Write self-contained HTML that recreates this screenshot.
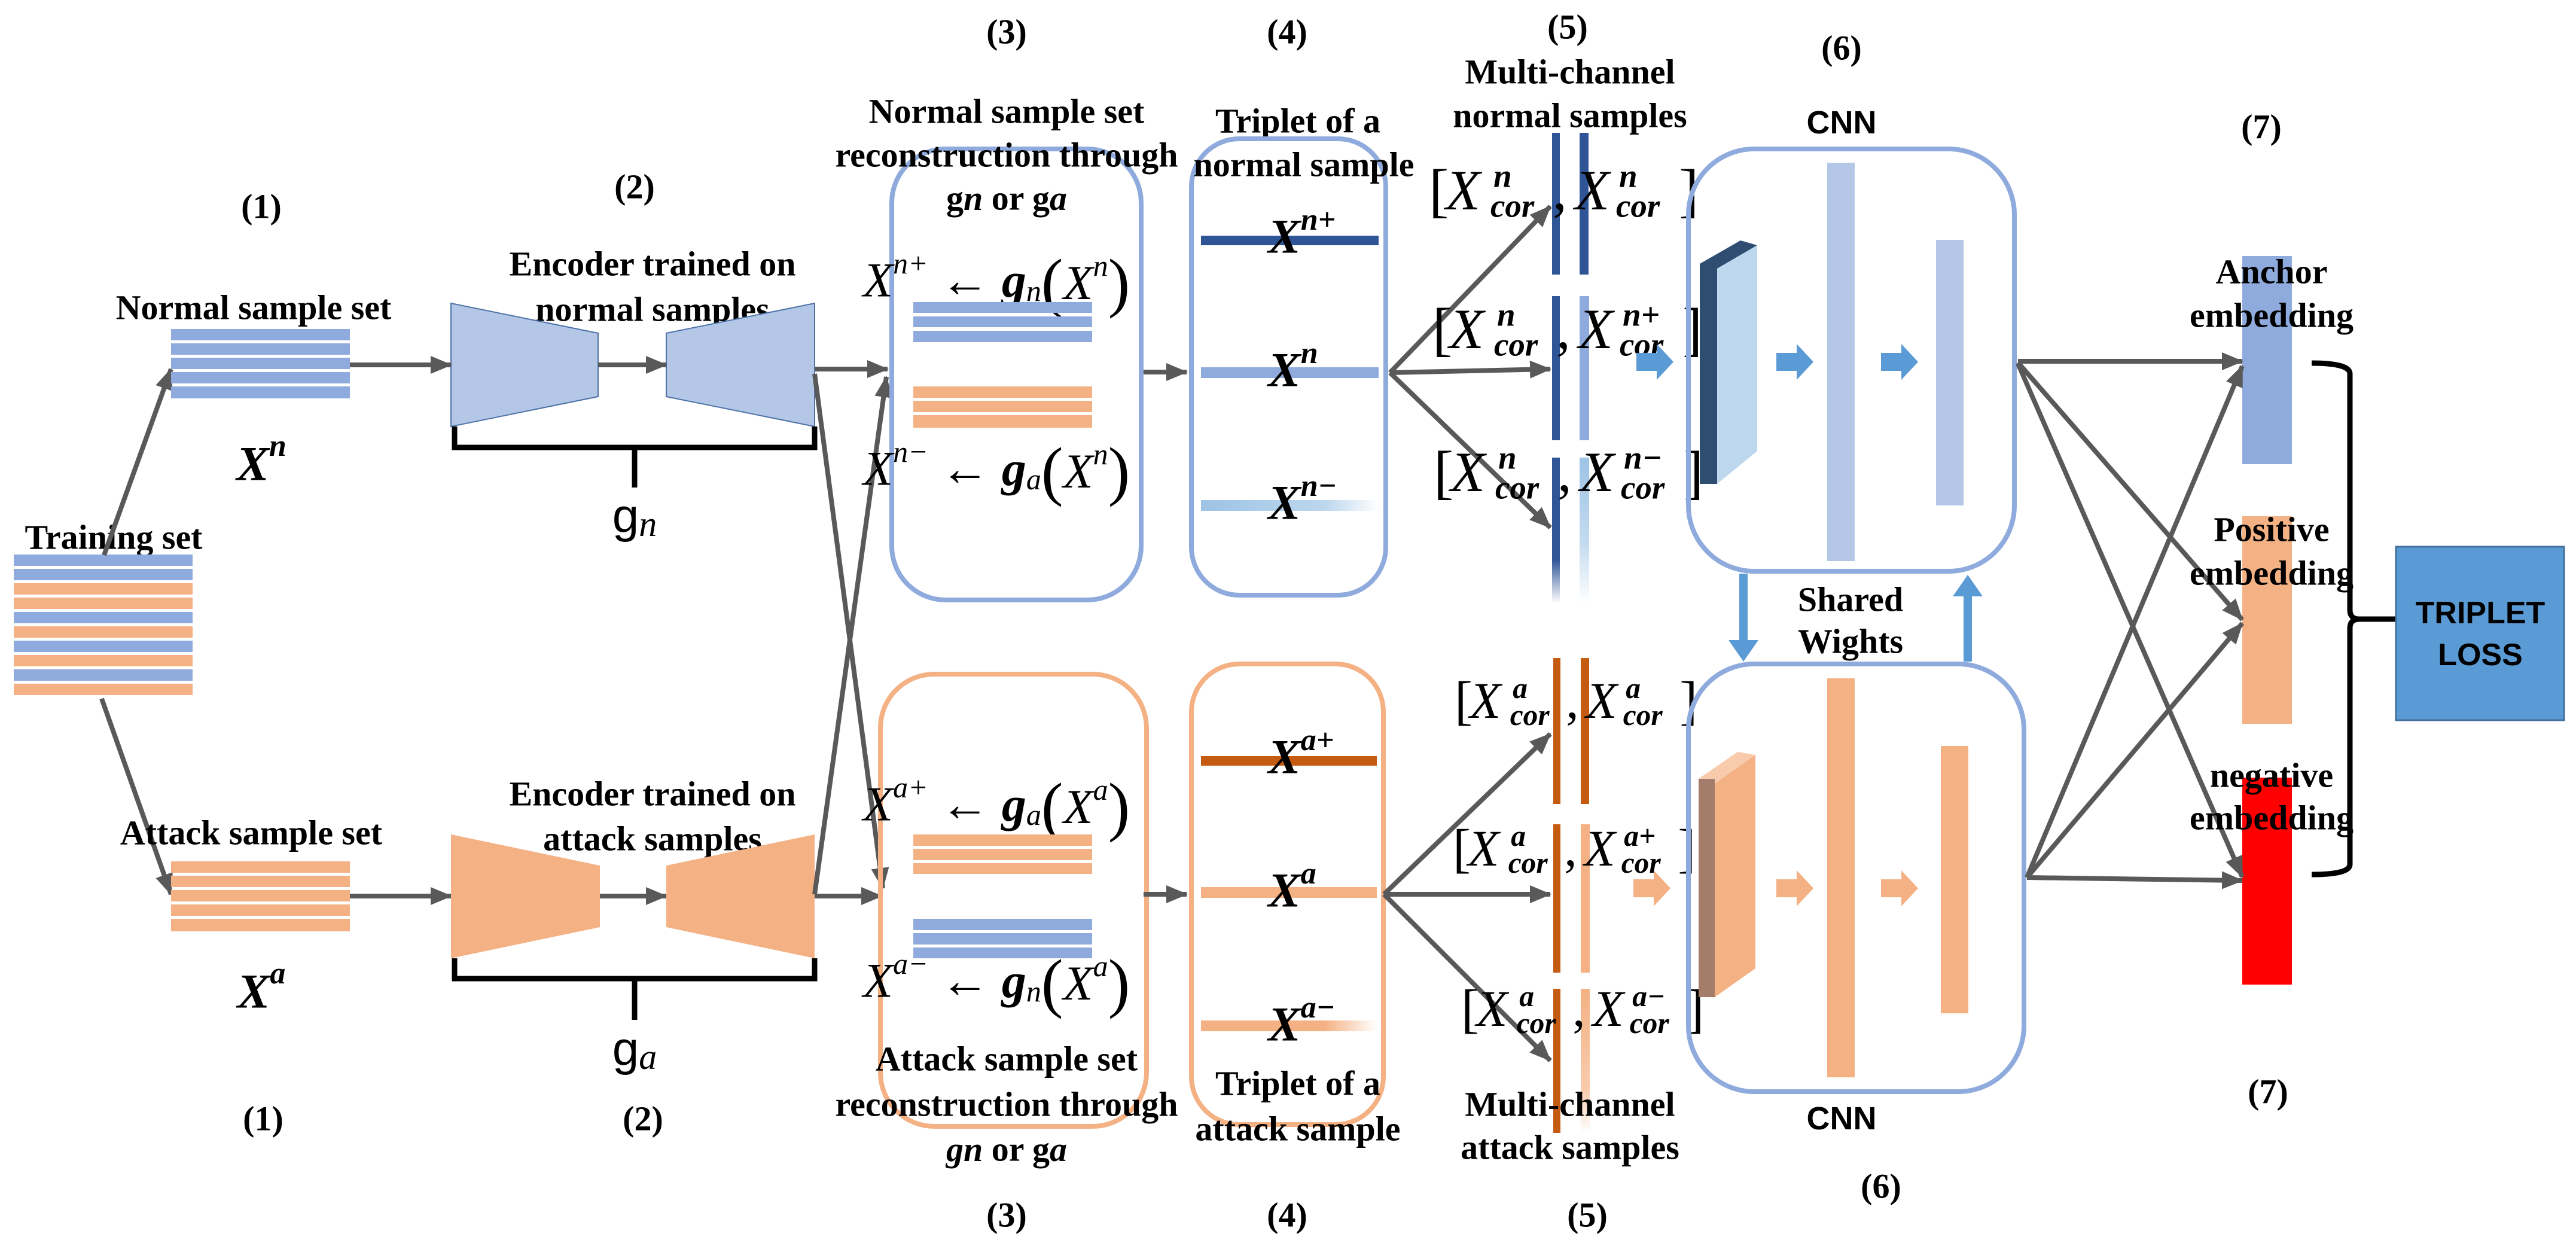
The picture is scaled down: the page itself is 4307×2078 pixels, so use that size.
<!DOCTYPE html>
<html><head><meta charset="utf-8"><style>
html,body{margin:0;padding:0;background:#fff;}
svg{display:block;}
.t{font-family:"Liberation Serif",serif;font-weight:bold;font-size:58px;fill:#000;}
.m{font-family:"Liberation Serif",serif;font-style:italic;fill:#000;}
.s{font-family:"Liberation Sans",sans-serif;font-weight:bold;fill:#000;}
</style></head><body>
<svg width="4307" height="2078" viewBox="0 0 4307 2078" xmlns="http://www.w3.org/2000/svg">
<defs>
<marker id="ah" markerUnits="userSpaceOnUse" markerWidth="40" markerHeight="34" refX="34" refY="15" orient="auto">
<path d="M0,0 L36,15 L0,30 z" fill="#595959"/></marker>
<linearGradient id="gb" x1="0" x2="1"><stop offset="0" stop-color="#9dc3e6"/><stop offset="0.7" stop-color="#bdd7ee"/><stop offset="1" stop-color="#fff"/></linearGradient>
<linearGradient id="go" x1="0" x2="1"><stop offset="0" stop-color="#f4b183"/><stop offset="0.7" stop-color="#f4b183"/><stop offset="1" stop-color="#fff"/></linearGradient>
<linearGradient id="gbv" x1="0" y1="0" x2="0" y2="1"><stop offset="0" stop-color="#9dc3e6"/><stop offset="0.6" stop-color="#c5dcf0"/><stop offset="1" stop-color="#fff"/></linearGradient>
<linearGradient id="gbv2" x1="0" y1="0" x2="0" y2="1"><stop offset="0" stop-color="#2f5597"/><stop offset="0.7" stop-color="#2f5597"/><stop offset="1" stop-color="#fff"/></linearGradient>
<linearGradient id="gov" x1="0" y1="0" x2="0" y2="1"><stop offset="0" stop-color="#f4b183"/><stop offset="0.7" stop-color="#f8cbad"/><stop offset="1" stop-color="#fff"/></linearGradient>
</defs>

<!-- Training set -->
<text class="t" x="190" y="898" text-anchor="middle" dominant-baseline="central">Training set</text>
<g>
<rect x="23" y="927" width="299" height="19" fill="#8faadc"/>
<rect x="23" y="951" width="299" height="19" fill="#8faadc"/>
<rect x="23" y="975" width="299" height="19" fill="#f4b183"/>
<rect x="23" y="999" width="299" height="19" fill="#f4b183"/>
<rect x="23" y="1023" width="299" height="19" fill="#8faadc"/>
<rect x="23" y="1047" width="299" height="19" fill="#f4b183"/>
<rect x="23" y="1071" width="299" height="19" fill="#8faadc"/>
<rect x="23" y="1095" width="299" height="19" fill="#f4b183"/>
<rect x="23" y="1119" width="299" height="19" fill="#8faadc"/>
<rect x="23" y="1143" width="299" height="19" fill="#f4b183"/>
</g>
<g stroke="#595959" stroke-width="8" fill="none" marker-end="url(#ah)">
<line x1="174" y1="928" x2="286" y2="617"/>
<line x1="170" y1="1168" x2="286" y2="1495"/>
</g>

<!-- (1) normal -->
<text class="t" x="437" y="345" text-anchor="middle" dominant-baseline="central">(1)</text>
<text class="t" x="424" y="514" text-anchor="middle" dominant-baseline="central">Normal sample set</text>
<g fill="#8faadc">
<rect x="286" y="550" width="299" height="19"/><rect x="286" y="574" width="299" height="19"/><rect x="286" y="598" width="299" height="19"/><rect x="286" y="622" width="299" height="19"/><rect x="286" y="646" width="299" height="20"/>
</g>
<text class="m" x="437" y="775" text-anchor="middle" dominant-baseline="central" font-weight="bold" font-size="82">X<tspan font-size="52" dy="-30">n</tspan></text>

<!-- (1) attack -->
<text class="t" x="420" y="1392" text-anchor="middle" dominant-baseline="central">Attack sample set</text>
<g fill="#f4b183">
<rect x="286" y="1440" width="299" height="19"/><rect x="286" y="1464" width="299" height="19"/><rect x="286" y="1488" width="299" height="19"/><rect x="286" y="1512" width="299" height="19"/><rect x="286" y="1536" width="299" height="21"/>
</g>
<text class="m" x="437" y="1657" text-anchor="middle" dominant-baseline="central" font-weight="bold" font-size="82">X<tspan font-size="52" dy="-30">a</tspan></text>
<text class="t" x="440" y="1870" text-anchor="middle" dominant-baseline="central">(1)</text>

<!-- (2) encoders -->
<text class="t" x="1061" y="312" text-anchor="middle" dominant-baseline="central">(2)</text>
<text class="t" x="1091" y="441" text-anchor="middle" dominant-baseline="central">Encoder trained on</text>
<text class="t" x="1091" y="517" text-anchor="middle" dominant-baseline="central">normal samples</text>
<polygon points="754,507 1000,557 1000,663 754,713" fill="#b4c7e7" stroke="#4f73a8" stroke-width="2"/>
<polygon points="1114,557 1362,507 1362,713 1114,663" fill="#b4c7e7" stroke="#4f73a8" stroke-width="2"/>
<g stroke="#595959" stroke-width="8" fill="none" marker-end="url(#ah)">
<line x1="585" y1="610" x2="754" y2="610"/>
<line x1="1000" y1="610" x2="1114" y2="610"/>
<line x1="585" y1="1498" x2="754" y2="1498"/>
<line x1="1003" y1="1498" x2="1114" y2="1498"/>
</g>
<path d="M760,713 V748 H1362 V713 M1061,748 V815" stroke="#000" stroke-width="9" fill="none"/>
<text x="1061" y="862" text-anchor="middle" dominant-baseline="central" font-family="Liberation Sans,sans-serif" font-size="80">g<tspan class="m" font-size="60" dy="14">n</tspan></text>

<text class="t" x="1091" y="1327" text-anchor="middle" dominant-baseline="central">Encoder trained on</text>
<text class="t" x="1091" y="1402" text-anchor="middle" dominant-baseline="central">attack samples</text>
<polygon points="754,1395 1003,1447 1003,1550 754,1602" fill="#f4b183"/>
<polygon points="1114,1447 1362,1395 1362,1602 1114,1550" fill="#f4b183"/>
<path d="M760,1602 V1636 H1362 V1602 M1061,1636 V1705" stroke="#000" stroke-width="9" fill="none"/>
<text x="1061" y="1753" text-anchor="middle" dominant-baseline="central" font-family="Liberation Sans,sans-serif" font-size="80">g<tspan class="m" font-size="60" dy="14">a</tspan></text>
<text class="t" x="1075" y="1870" text-anchor="middle" dominant-baseline="central">(2)</text>

<!-- encoder -> box3 arrows -->
<g stroke="#595959" stroke-width="8" fill="none" marker-end="url(#ah)">
<line x1="1362" y1="617" x2="1484" y2="617"/>
<line x1="1362" y1="1498" x2="1474" y2="1498"/>
<line x1="1362" y1="625" x2="1476" y2="1485"/>
<line x1="1362" y1="1495" x2="1482" y2="630"/>
</g>

<!-- (3) -->
<text class="t" x="1683" y="53" text-anchor="middle" dominant-baseline="central">(3)</text>
<text class="t" x="1683" y="186" text-anchor="middle" dominant-baseline="central">Normal sample set</text>
<rect x="1491" y="249" width="417" height="754" rx="90" fill="none" stroke="#8faadc" stroke-width="8"/>
<text class="t" x="1683" y="259" text-anchor="middle" dominant-baseline="central">reconstruction through</text>
<text class="t" x="1683" y="331" text-anchor="middle" dominant-baseline="central">g<tspan font-style="italic">n</tspan> or g<tspan font-style="italic">a</tspan></text>
<text class="m" x="1443" y="468" dominant-baseline="central" font-size="82">X<tspan font-size="50" dy="-28">n+</tspan><tspan dy="28" font-style="normal"> ← </tspan><tspan font-weight="bold">g</tspan><tspan font-size="50" dy="18">n</tspan><tspan font-size="110" dy="-14" font-style="normal">(</tspan><tspan dy="0">X</tspan><tspan font-size="50" dy="-28">n</tspan><tspan font-size="110" dy="28" font-style="normal">)</tspan></text>
<g fill="#8faadc"><rect x="1527" y="505" width="299" height="18"/><rect x="1527" y="529" width="299" height="18"/><rect x="1527" y="553" width="299" height="19"/></g>
<g fill="#f4b183"><rect x="1527" y="646" width="299" height="19"/><rect x="1527" y="670" width="299" height="19"/><rect x="1527" y="694" width="299" height="21"/></g>
<text class="m" x="1443" y="783" dominant-baseline="central" font-size="82">X<tspan font-size="50" dy="-28">n−</tspan><tspan dy="28" font-style="normal"> ← </tspan><tspan font-weight="bold">g</tspan><tspan font-size="50" dy="18">a</tspan><tspan font-size="110" dy="-14" font-style="normal">(</tspan><tspan dy="0">X</tspan><tspan font-size="50" dy="-28">n</tspan><tspan font-size="110" dy="28" font-style="normal">)</tspan></text>

<rect x="1472" y="1127" width="445" height="756" rx="90" fill="none" stroke="#f4b183" stroke-width="8"/>
<text class="m" x="1443" y="1344" dominant-baseline="central" font-size="82">X<tspan font-size="50" dy="-28">a+</tspan><tspan dy="28" font-style="normal"> ← </tspan><tspan font-weight="bold">g</tspan><tspan font-size="50" dy="18">a</tspan><tspan font-size="110" dy="-14" font-style="normal">(</tspan><tspan dy="0">X</tspan><tspan font-size="50" dy="-28">a</tspan><tspan font-size="110" dy="28" font-style="normal">)</tspan></text>
<g fill="#f4b183"><rect x="1527" y="1395" width="299" height="19"/><rect x="1527" y="1419" width="299" height="19"/><rect x="1527" y="1443" width="299" height="18"/></g>
<g fill="#8faadc"><rect x="1527" y="1536" width="299" height="19"/><rect x="1527" y="1560" width="299" height="19"/><rect x="1527" y="1584" width="299" height="18"/></g>
<text class="m" x="1443" y="1639" dominant-baseline="central" font-size="82">X<tspan font-size="50" dy="-28">a−</tspan><tspan dy="28" font-style="normal"> ← </tspan><tspan font-weight="bold">g</tspan><tspan font-size="50" dy="18">n</tspan><tspan font-size="110" dy="-14" font-style="normal">(</tspan><tspan dy="0">X</tspan><tspan font-size="50" dy="-28">a</tspan><tspan font-size="110" dy="28" font-style="normal">)</tspan></text>
<text class="t" x="1683" y="1770" text-anchor="middle" dominant-baseline="central">Attack sample set</text>
<text class="t" x="1683" y="1846" text-anchor="middle" dominant-baseline="central">reconstruction through</text>
<text class="t" x="1683" y="1921" text-anchor="middle" dominant-baseline="central"><tspan font-style="italic">gn</tspan> or g<tspan font-style="italic">a</tspan></text>
<text class="t" x="1683" y="2031" text-anchor="middle" dominant-baseline="central">(3)</text>

<!-- box3 -> box4 -->
<g stroke="#595959" stroke-width="8" fill="none" marker-end="url(#ah)">
<line x1="1912" y1="622" x2="1984" y2="622"/>
<line x1="1912" y1="1495" x2="1984" y2="1495"/>
</g>

<!-- (4) -->
<text class="t" x="2152" y="53" text-anchor="middle" dominant-baseline="central">(4)</text>
<text class="t" x="2170" y="202" text-anchor="middle" dominant-baseline="central">Triplet of  a</text>
<rect x="1992" y="232" width="325" height="763" rx="80" fill="none" stroke="#8faadc" stroke-width="8"/>
<text class="t" x="2180" y="275" text-anchor="middle" dominant-baseline="central">normal sample</text>
<rect x="2008" y="394" width="297" height="16" fill="#2f5597"/>
<rect x="2008" y="614" width="297" height="18" fill="#8faadc"/>
<rect x="2008" y="836" width="297" height="18" fill="url(#gb)"/>
<g class="m" font-weight="bold" font-size="82" text-anchor="start">
<text x="2120" y="395" dominant-baseline="central">X<tspan font-size="52" dy="-28">n+</tspan></text>
<text x="2120" y="618" dominant-baseline="central">X<tspan font-size="52" dy="-28">n</tspan></text>
<text x="2120" y="840" dominant-baseline="central">X<tspan font-size="52" dy="-28">n−</tspan></text>
</g>
<rect x="1992" y="1110" width="321" height="770" rx="80" fill="none" stroke="#f4b183" stroke-width="8"/>
<rect x="2008" y="1264" width="294" height="16" fill="#c55a11"/>
<rect x="2008" y="1483" width="294" height="18" fill="#f4b183"/>
<rect x="2008" y="1706" width="294" height="18" fill="url(#go)"/>
<g class="m" font-weight="bold" font-size="82">
<text x="2120" y="1265" dominant-baseline="central">X<tspan font-size="52" dy="-28">a+</tspan></text>
<text x="2120" y="1488" dominant-baseline="central">X<tspan font-size="52" dy="-28">a</tspan></text>
<text x="2120" y="1712" dominant-baseline="central">X<tspan font-size="52" dy="-28">a−</tspan></text>
</g>
<text class="t" x="2170" y="1811" text-anchor="middle" dominant-baseline="central">Triplet of  a</text>
<text class="t" x="2170" y="1887" text-anchor="middle" dominant-baseline="central">attack sample</text>
<text class="t" x="2152" y="2031" text-anchor="middle" dominant-baseline="central">(4)</text>

<!-- (5) channels -->
<text class="t" x="2621" y="45" text-anchor="middle" dominant-baseline="central">(5)</text>
<text class="t" x="2625" y="120" text-anchor="middle" dominant-baseline="central">Multi-channel</text>
<text class="t" x="2625" y="193" text-anchor="middle" dominant-baseline="central">normal samples</text>
<rect x="2595" y="222" width="13" height="237" fill="#2f5597"/>
<rect x="2641" y="222" width="15" height="237" fill="#2f5597"/>
<rect x="2595" y="495" width="13" height="241" fill="#2f5597"/>
<rect x="2641" y="495" width="16" height="241" fill="#8faadc"/>
<rect x="2595" y="765" width="13" height="243" fill="url(#gbv2)"/>
<rect x="2641" y="765" width="16" height="243" fill="url(#gbv)"/>

<rect x="2597" y="1100" width="12" height="244" fill="#c55a11"/>
<rect x="2643" y="1100" width="14" height="244" fill="#c55a11"/>
<rect x="2597" y="1378" width="12" height="248" fill="#c55a11"/>
<rect x="2643" y="1378" width="15" height="248" fill="#f4b183"/>
<rect x="2597" y="1653" width="12" height="241" fill="#c55a11"/>
<rect x="2643" y="1653" width="15" height="241" fill="url(#gov)"/>

<g stroke="#595959" stroke-width="8" fill="none" marker-end="url(#ah)">
<line x1="2324" y1="623" x2="2592" y2="345"/>
<line x1="2324" y1="623" x2="2592" y2="617"/>
<line x1="2324" y1="623" x2="2592" y2="882"/>
<line x1="2314" y1="1495" x2="2592" y2="1227"/>
<line x1="2314" y1="1495" x2="2592" y2="1495"/>
<line x1="2314" y1="1495" x2="2592" y2="1773"/>
</g>

<!-- channel labels -->
<g font-family="Liberation Serif,serif" fill="#000">
<g transform="translate(2389,318)">
<text x="0" y="0" font-size="100" dominant-baseline="central">[</text>
<text x="28" y="0" font-size="95" font-style="italic" dominant-baseline="central">X</text>
<text x="108" y="-24" font-size="55" font-style="italic" font-weight="bold" dominant-baseline="central">n</text>
<text x="103" y="26" font-size="55" font-style="italic" font-weight="bold" dominant-baseline="central">cor</text>
<text x="207" y="0" font-size="95" dominant-baseline="central">,</text>
<text x="244" y="0" font-size="95" font-style="italic" dominant-baseline="central">X</text>
<text x="318" y="-24" font-size="55" font-style="italic" font-weight="bold" dominant-baseline="central">n</text>
<text x="313" y="26" font-size="55" font-style="italic" font-weight="bold" dominant-baseline="central">cor</text>
<text x="418" y="0" font-size="100" dominant-baseline="central">]</text>
</g>
<g transform="translate(2395,550)">
<text x="0" y="0" font-size="100" dominant-baseline="central">[</text>
<text x="28" y="0" font-size="95" font-style="italic" dominant-baseline="central">X</text>
<text x="108" y="-24" font-size="55" font-style="italic" font-weight="bold" dominant-baseline="central">n</text>
<text x="103" y="26" font-size="55" font-style="italic" font-weight="bold" dominant-baseline="central">cor</text>
<text x="207" y="0" font-size="95" dominant-baseline="central">,</text>
<text x="244" y="0" font-size="95" font-style="italic" dominant-baseline="central">X</text>
<text x="318" y="-24" font-size="55" font-style="italic" font-weight="bold" dominant-baseline="central">n+</text>
<text x="313" y="26" font-size="55" font-style="italic" font-weight="bold" dominant-baseline="central">cor</text>
<text x="418" y="0" font-size="100" dominant-baseline="central">]</text>
</g>
<g transform="translate(2397,789)">
<text x="0" y="0" font-size="100" dominant-baseline="central">[</text>
<text x="28" y="0" font-size="95" font-style="italic" dominant-baseline="central">X</text>
<text x="108" y="-24" font-size="55" font-style="italic" font-weight="bold" dominant-baseline="central">n</text>
<text x="103" y="26" font-size="55" font-style="italic" font-weight="bold" dominant-baseline="central">cor</text>
<text x="207" y="0" font-size="95" dominant-baseline="central">,</text>
<text x="244" y="0" font-size="95" font-style="italic" dominant-baseline="central">X</text>
<text x="318" y="-24" font-size="55" font-style="italic" font-weight="bold" dominant-baseline="central">n−</text>
<text x="313" y="26" font-size="55" font-style="italic" font-weight="bold" dominant-baseline="central">cor</text>
<text x="418" y="0" font-size="100" dominant-baseline="central">]</text>
</g>
<g transform="translate(2432,1172) scale(0.9)">
<text x="0" y="0" font-size="100" dominant-baseline="central">[</text>
<text x="28" y="0" font-size="95" font-style="italic" dominant-baseline="central">X</text>
<text x="108" y="-24" font-size="55" font-style="italic" font-weight="bold" dominant-baseline="central">a</text>
<text x="103" y="26" font-size="55" font-style="italic" font-weight="bold" dominant-baseline="central">cor</text>
<text x="207" y="0" font-size="95" dominant-baseline="central">,</text>
<text x="244" y="0" font-size="95" font-style="italic" dominant-baseline="central">X</text>
<text x="318" y="-24" font-size="55" font-style="italic" font-weight="bold" dominant-baseline="central">a</text>
<text x="313" y="26" font-size="55" font-style="italic" font-weight="bold" dominant-baseline="central">cor</text>
<text x="418" y="0" font-size="100" dominant-baseline="central">]</text>
</g>
<g transform="translate(2429,1419) scale(0.9)">
<text x="0" y="0" font-size="100" dominant-baseline="central">[</text>
<text x="28" y="0" font-size="95" font-style="italic" dominant-baseline="central">X</text>
<text x="108" y="-24" font-size="55" font-style="italic" font-weight="bold" dominant-baseline="central">a</text>
<text x="103" y="26" font-size="55" font-style="italic" font-weight="bold" dominant-baseline="central">cor</text>
<text x="207" y="0" font-size="95" dominant-baseline="central">,</text>
<text x="244" y="0" font-size="95" font-style="italic" dominant-baseline="central">X</text>
<text x="318" y="-24" font-size="55" font-style="italic" font-weight="bold" dominant-baseline="central">a+</text>
<text x="313" y="26" font-size="55" font-style="italic" font-weight="bold" dominant-baseline="central">cor</text>
<text x="418" y="0" font-size="100" dominant-baseline="central">]</text>
</g>
<g transform="translate(2443,1687) scale(0.9)">
<text x="0" y="0" font-size="100" dominant-baseline="central">[</text>
<text x="28" y="0" font-size="95" font-style="italic" dominant-baseline="central">X</text>
<text x="108" y="-24" font-size="55" font-style="italic" font-weight="bold" dominant-baseline="central">a</text>
<text x="103" y="26" font-size="55" font-style="italic" font-weight="bold" dominant-baseline="central">cor</text>
<text x="207" y="0" font-size="95" dominant-baseline="central">,</text>
<text x="244" y="0" font-size="95" font-style="italic" dominant-baseline="central">X</text>
<text x="318" y="-24" font-size="55" font-style="italic" font-weight="bold" dominant-baseline="central">a−</text>
<text x="313" y="26" font-size="55" font-style="italic" font-weight="bold" dominant-baseline="central">cor</text>
<text x="418" y="0" font-size="100" dominant-baseline="central">]</text>
</g>
</g>
<text class="t" x="2625" y="1846" text-anchor="middle" dominant-baseline="central">Multi-channel</text>
<text class="t" x="2625" y="1918" text-anchor="middle" dominant-baseline="central">attack samples</text>
<text class="t" x="2654" y="2031" text-anchor="middle" dominant-baseline="central">(5)</text>

<!-- (6) CNN -->
<text class="t" x="3079" y="80" text-anchor="middle" dominant-baseline="central">(6)</text>
<text class="s" x="3079" y="205" text-anchor="middle" dominant-baseline="central" font-size="54">CNN</text>
<rect x="2823" y="249" width="545" height="706" rx="110" fill="none" stroke="#8faadc" stroke-width="8"/>
<polygon points="2736,590 2770,590 2770,575 2798,605 2770,635 2770,620 2736,620" fill="#5b9bd5"/>
<polygon points="2842,441 2910,402 2938,410 2871,449" fill="#2e4d70"/>
<rect x="2842" y="441" width="29" height="368" fill="#2e4d70"/>
<polygon points="2871,449 2938,410 2938,754 2871,809" fill="#bdd7ee"/>
<polygon points="2970,590 3004,590 3004,575 3032,605 3004,635 3004,620 2970,620" fill="#5b9bd5"/>
<rect x="3055" y="272" width="46" height="666" fill="#b4c7e7"/>
<polygon points="3145,590 3179,590 3179,575 3207,605 3179,635 3179,620 3145,620" fill="#5b9bd5"/>
<rect x="3237" y="401" width="46" height="444" fill="#b4c7e7"/>

<rect x="2823" y="1110" width="561" height="715" rx="110" fill="none" stroke="#8faadc" stroke-width="8"/>
<polygon points="2731,1470 2765,1470 2765,1455 2793,1485 2765,1515 2765,1500 2731,1500" fill="#f4b183"/>
<polygon points="2840,1302 2905,1257 2935,1262 2867,1310" fill="#f8cbad"/>
<rect x="2840" y="1302" width="27" height="365" fill="#a47c6a"/>
<polygon points="2867,1310 2935,1262 2935,1619 2867,1667" fill="#f4b183"/>
<polygon points="2970,1470 3004,1470 3004,1455 3032,1485 3004,1515 3004,1500 2970,1500" fill="#f4b183"/>
<rect x="3055" y="1134" width="46" height="667" fill="#f4b183"/>
<polygon points="3145,1470 3179,1470 3179,1455 3207,1485 3179,1515 3179,1500 3145,1500" fill="#f4b183"/>
<rect x="3245" y="1247" width="46" height="447" fill="#f4b183"/>
<text class="s" x="3079" y="1870" text-anchor="middle" dominant-baseline="central" font-size="54">CNN</text>
<text class="t" x="3145" y="1983" text-anchor="middle" dominant-baseline="central">(6)</text>

<!-- shared weights -->
<line x1="2915" y1="959" x2="2915" y2="1072" stroke="#5b9bd5" stroke-width="14"/>
<polygon points="2890,1070 2940,1070 2915,1106" fill="#5b9bd5"/>
<line x1="3290" y1="1106" x2="3290" y2="995" stroke="#5b9bd5" stroke-width="14"/>
<polygon points="3265,997 3315,997 3290,961" fill="#5b9bd5"/>
<text class="t" x="3094" y="1002" text-anchor="middle" dominant-baseline="central">Shared</text>
<text class="t" x="3094" y="1072" text-anchor="middle" dominant-baseline="central">Wights</text>

<!-- (7) embeddings -->
<text class="t" x="3781" y="212" text-anchor="middle" dominant-baseline="central">(7)</text>
<rect x="3749" y="428" width="83" height="348" fill="#8faadc"/>
<rect x="3749" y="863" width="83" height="347" fill="#f4b183"/>
<rect x="3749" y="1300" width="83" height="346" fill="#ff0000"/>
<g stroke="#595959" stroke-width="8" fill="none" marker-end="url(#ah)">
<line x1="3374" y1="604" x2="3749" y2="604"/>
<line x1="3374" y1="606" x2="3749" y2="1036"/>
<line x1="3374" y1="608" x2="3749" y2="1466"/>
<line x1="3389" y1="1467" x2="3749" y2="612"/>
<line x1="3389" y1="1467" x2="3749" y2="1042"/>
<line x1="3389" y1="1467" x2="3749" y2="1472"/>
</g>
<text class="t" x="3798" y="454" text-anchor="middle" dominant-baseline="central">Anchor</text>
<text class="t" x="3798" y="527" text-anchor="middle" dominant-baseline="central">embedding</text>
<text class="t" x="3798" y="885" text-anchor="middle" dominant-baseline="central">Positive</text>
<text class="t" x="3798" y="958" text-anchor="middle" dominant-baseline="central">embedding</text>
<text class="t" x="3798" y="1296" text-anchor="middle" dominant-baseline="central">negative</text>
<text class="t" x="3798" y="1367" text-anchor="middle" dominant-baseline="central">embedding</text>
<text class="t" x="3792" y="1825" text-anchor="middle" dominant-baseline="central">(7)</text>

<!-- brace -->
<path d="M3865,607 Q3929,607 3929,625 V1020 Q3929,1035 3945,1035 Q3929,1035 3929,1050 V1445 Q3929,1462 3865,1462" stroke="#000" stroke-width="9" fill="none"/>
<line x1="3940" y1="1035" x2="4006" y2="1035" stroke="#000" stroke-width="9"/>

<!-- triplet loss -->
<rect x="4006" y="914" width="281" height="290" fill="#5b9bd5" stroke="#41719c" stroke-width="3"/>
<text class="s" x="4147" y="1025" text-anchor="middle" dominant-baseline="central" font-size="52" fill="#0d1a2e">TRIPLET</text>
<text class="s" x="4147" y="1095" text-anchor="middle" dominant-baseline="central" font-size="52" fill="#0d1a2e">LOSS</text>
</svg>
</body></html>
